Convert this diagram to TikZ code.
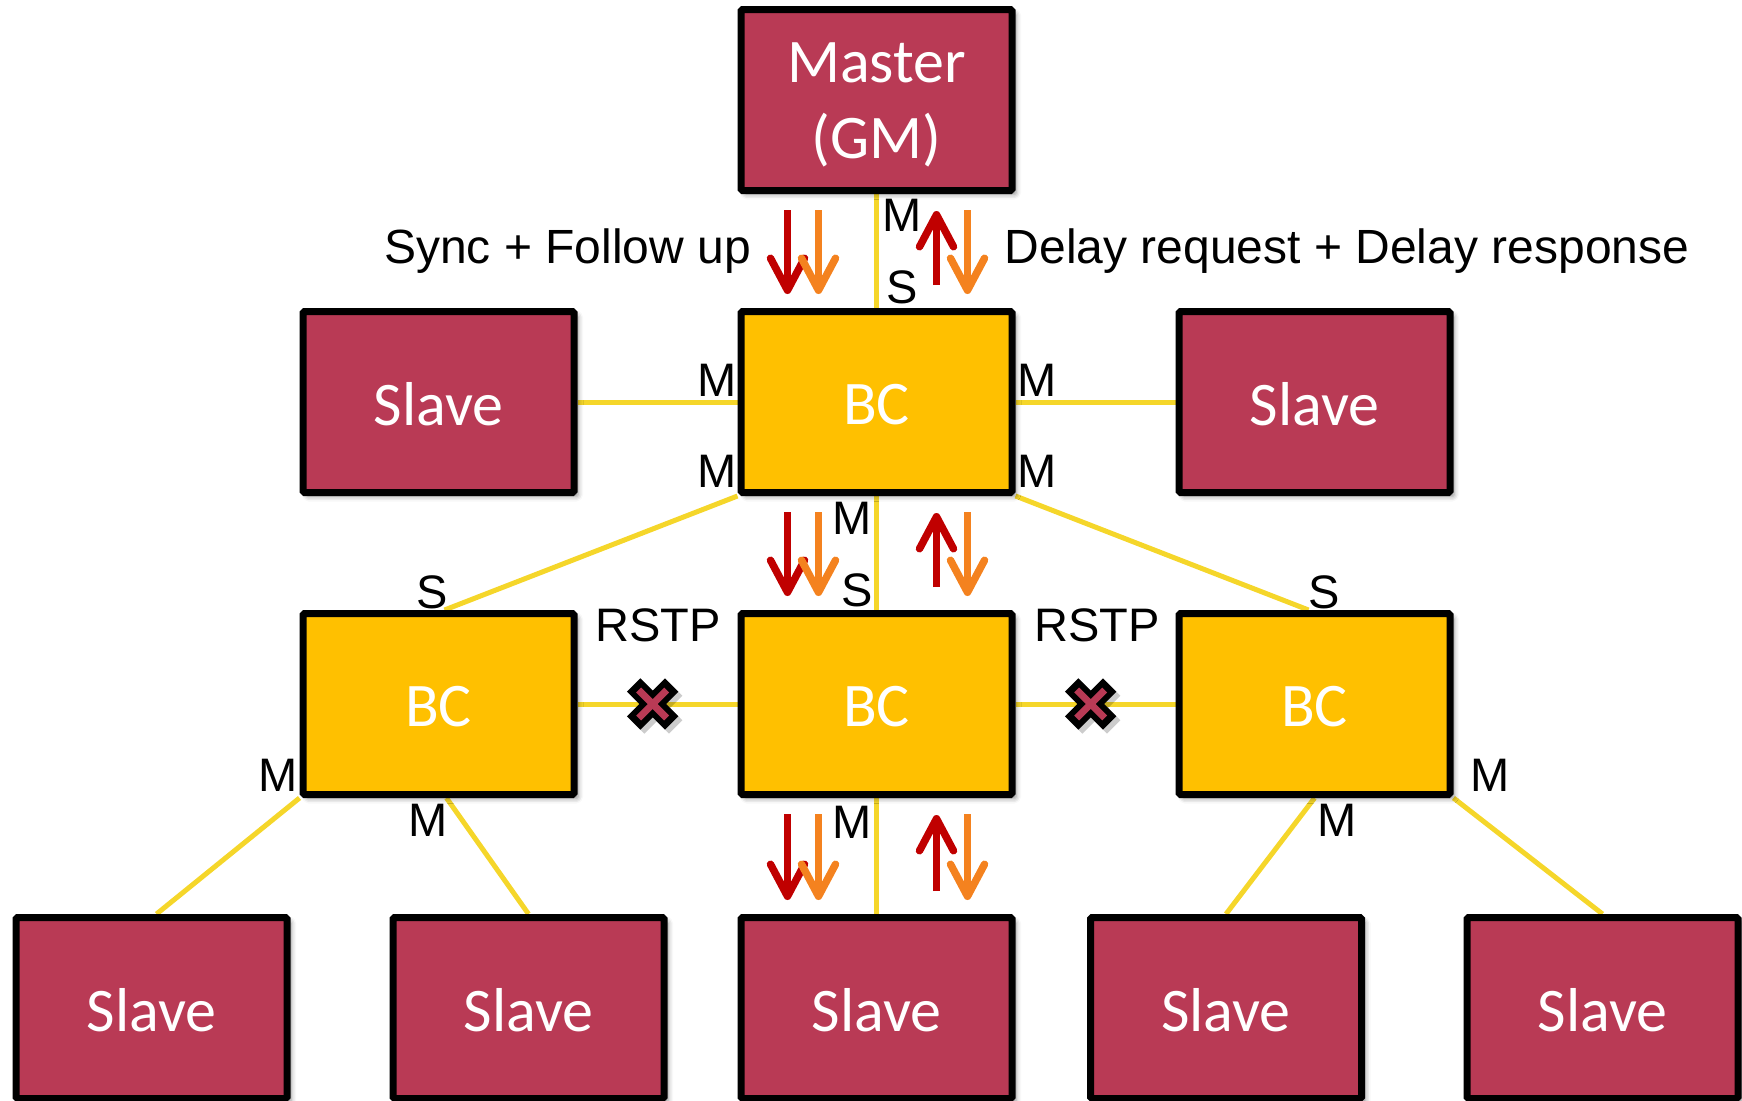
\documentclass[tikz,border=0pt]{standalone}
\usepackage{fontspec}
\setmainfont{Liberation Sans}
\newfontfamily\boxfont{Carlito}
\usetikzlibrary{arrows.meta,shadows.blur,calc}
\definecolor{boxred}{HTML}{B93A55}
\definecolor{bcgold}{HTML}{FFC000}
\definecolor{linkyellow}{HTML}{F5D62A}
\definecolor{msgred}{HTML}{C00000}
\definecolor{msgorange}{HTML}{F4821F}
\pgfdeclarelayer{links}
\pgfsetlayers{links,main}
% lower a box label without changing the size TikZ centres on
\newcommand\sinktext[2]{\raisebox{-#1}[\height][\depth]{#2}}
\begin{document}
\begin{tikzpicture}[x=1pt,y=-1pt,
  device/.style={draw=black, line width=7pt, rounded corners=1.5pt,
    minimum width=271pt, minimum height=181pt, inner sep=0pt,
    text=white, align=center, font=\boxfont\fontsize{62}{76}\selectfont,
    blur shadow={shadow xshift=4pt, shadow yshift=-4pt,
      shadow blur radius=5pt, shadow opacity=45}},
  slavebox/.style={device, fill=boxred},
  bcbox/.style={device, fill=bcgold},
  link/.style={draw=linkyellow, line width=5pt},
  port/.style={font=\fontsize{47}{56}\selectfont, inner sep=0pt},
  caption/.style={font=\fontsize{48}{56}\selectfont, inner sep=0pt, anchor=base},
  msg/.style={line width=7.5pt, -{Straight Barb[length=32pt,width=34pt,round]}},
  blockoutline/.style={draw=black, line width=19pt},
  blockmark/.style={draw=boxred, line width=7pt},
]
\useasboundingbox (0,0) rectangle (1742,1100);

% grandmaster and first boundary clock
\node[slavebox] (GM)  at (876.5,100)
  {\sinktext{5pt}{\begin{tabular}{@{}c@{}}Master\\(GM)\end{tabular}}};
\node[bcbox]    (BC1) at (876.5,402) {\sinktext{2.5pt}{BC}};
\node[slavebox] (SL)  at (438.5,402) {\sinktext{2.5pt}{Slave}};
\node[slavebox] (SR)  at (1314.5,402) {\sinktext{2.5pt}{Slave}};

% second row of boundary clocks
\node[bcbox] (BCL) at (438.5,704) {\sinktext{2.5pt}{BC}};
\node[bcbox] (BCC) at (876.5,704) {\sinktext{2.5pt}{BC}};
\node[bcbox] (BCR) at (1314.5,704) {\sinktext{2.5pt}{BC}};

% leaf slaves
\node[slavebox] (S1) at (151.5,1008) {\sinktext{2.5pt}{Slave}};
\node[slavebox] (S2) at (528.5,1008) {\sinktext{2.5pt}{Slave}};
\node[slavebox] (S3) at (876.5,1008) {\sinktext{2.5pt}{Slave}};
\node[slavebox] (S4) at (1226,1008) {\sinktext{2.5pt}{Slave}};
\node[slavebox] (S5) at (1602.5,1008) {\sinktext{2.5pt}{Slave}};

% network links
\begin{pgfonlayer}{links}
  \draw[link] (GM.south) -- (BC1.north);
  \draw[link] (BC1.west) -- (SL.east);
  \draw[link] (BC1.east) -- (SR.west);
  \draw[link] (BC1.south west) -- ($(BCL.north)+(6,0)$);
  \draw[link] (BC1.south east) -- ($(BCR.north)+(-6,0)$);
  \draw[link] (BC1.south) -- (BCC.north);
  \draw[link] (BCL.east) -- (BCC.west);
  \draw[link] (BCC.east) -- (BCR.west);
  \draw[link] (BCL.south west) -- ($(S1.north)+(5,0)$);
  \draw[link] ($(BCL.south)+(8,0)$) -- (S2.north);
  \draw[link] (BCC.south) -- (S3.north);
  \draw[link] (BCR.south) -- (S4.north);
  \draw[link] (BCR.south east) -- (S5.north);
\end{pgfonlayer}

% PTP message exchange between each master/slave port pair
\foreach \up/\lo in {GM/BC1, BC1/BCC, BCC/S3} {
  \draw[msg, msgred]    ($(\up.south)+(-89,16)$) -- ($(\lo.north)+(-89,-14)$);
  \draw[msg, msgorange] ($(\up.south)+(-58,16)$) -- ($(\lo.north)+(-58,-14)$);
  \draw[msg, msgred]    ($(\lo.north)+(60,-23)$) -- ($(\up.south)+(60,17)$);
  \draw[msg, msgorange] ($(\up.south)+(91,16)$)  -- ($(\lo.north)+(91,-14)$);
}

% links blocked by RSTP
\coordinate (blkL) at ($(BCL.east)!0.47!(BCC.west)$);
\coordinate (blkR) at ($(BCC.east)!0.47!(BCR.west)$);
\foreach \c in {blkL, blkR} {
  \draw[black, opacity=0.2, line width=19pt]
    ($(\c)+(-15,-15)$) -- ($(\c)+(23,23)$)
    ($(\c)+(-15,23)$) -- ($(\c)+(23,-15)$);
  \draw[blockoutline] ($(\c)+(-19,-19)$) -- ($(\c)+(19,19)$)
                      ($(\c)+(-19,19)$) -- ($(\c)+(19,-19)$);
  \draw[blockmark] ($(\c)+(-14,-14)$) -- ($(\c)+(14,14)$)
                   ($(\c)+(-14,14)$) -- ($(\c)+(14,-14)$);
}

% message captions
\node[caption] (syncfu) at (567.5,263) {Sync + Follow up};
\node[caption] (delay)  at (1347,263) {Delay request + Delay response};

% port roles
\node[port] (p1)  at (902,215)  {M};
\node[port] (p2)  at (902,287)  {S};
\node[port] (p3)  at (717,380)  {M};
\node[port] (p4)  at (1037,380) {M};
\node[port] (p5)  at (717,471)  {M};
\node[port] (p6)  at (1037,471) {M};
\node[port] (p7)  at (852,518)  {M};
\node[port] (p8)  at (857,590)  {S};
\node[port] (p9)  at (432,592)  {S};
\node[port] (p10) at (1324,592) {S};
\node[port] (r1)  at (658,625)  {RSTP};
\node[port] (r2)  at (1097,625) {RSTP};
\node[port] (p11) at (278,775)  {M};
\node[port] (p12) at (428,820)  {M};
\node[port] (p13) at (852,822)  {M};
\node[port] (p14) at (1490,775) {M};
\node[port] (p15) at (1337,820) {M};
\end{tikzpicture}
\end{document}
